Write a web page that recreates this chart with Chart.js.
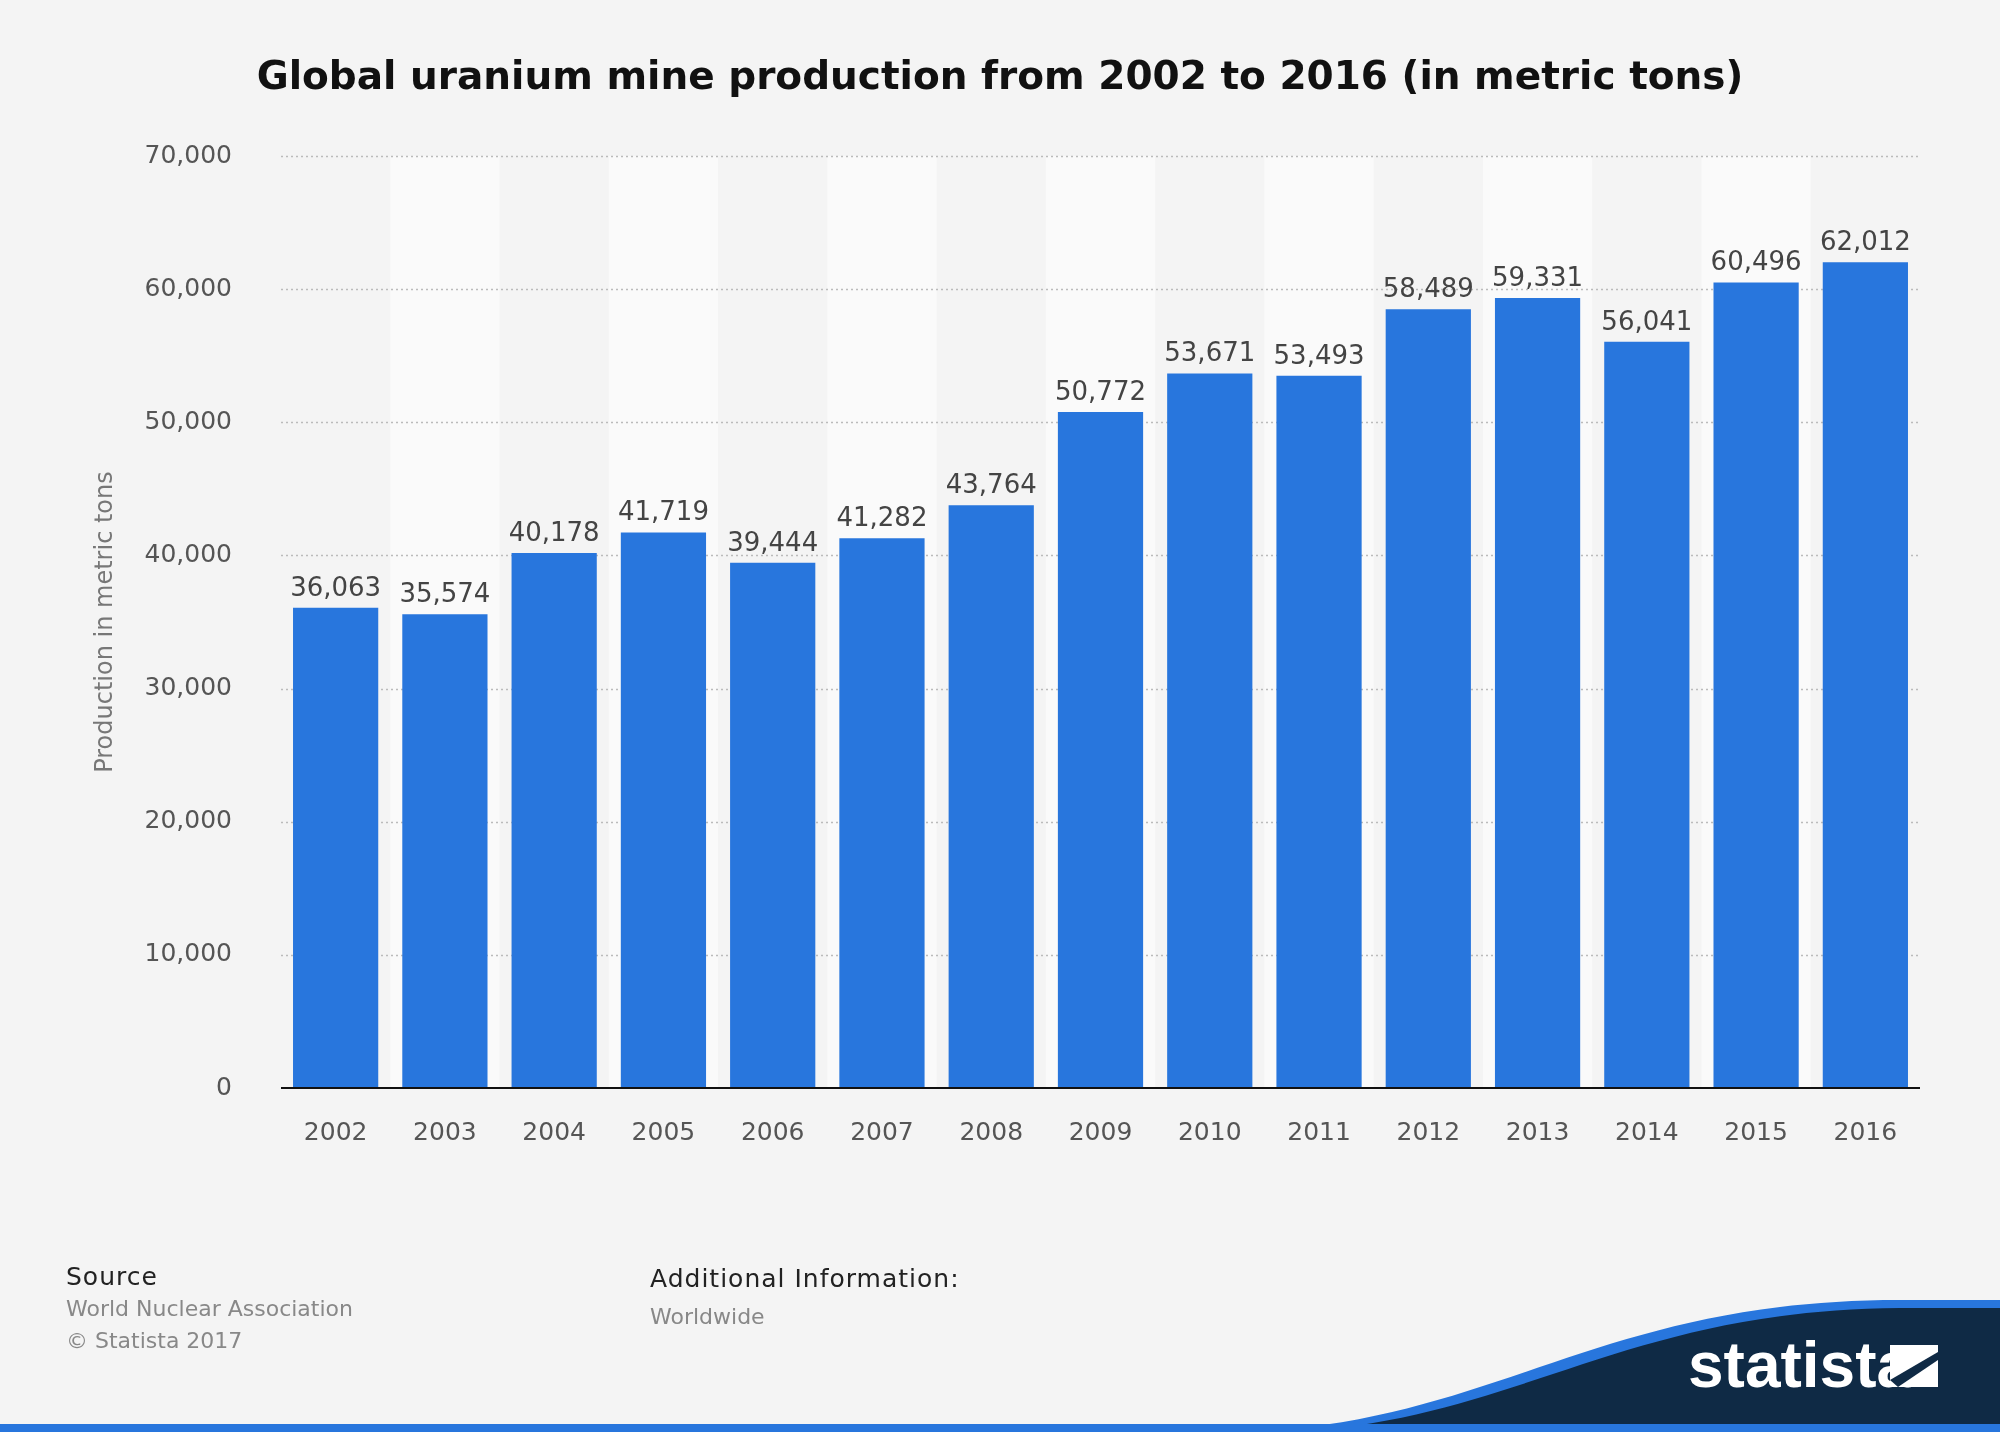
<!DOCTYPE html>
<html><head><meta charset="utf-8">
<script src="https://cdn.jsdelivr.net/npm/chart.js@4"></script>
<style>
body{margin:0;background:#f4f4f4;font-family:"DejaVu Sans",sans-serif;}
#wrap{position:relative;width:2000px;height:1432px;overflow:hidden;}
.t{position:absolute;white-space:nowrap;}
</style></head><body>
<div id="wrap">
<canvas id="myChart" width="2000" height="1432" style="position:absolute;left:0;top:0"></canvas>
<div class="t" style="left:66px;top:1262px;font-size:25px;color:#222;letter-spacing:1px">Source</div>
<div class="t" style="left:66px;top:1296px;font-size:22px;color:#888">World Nuclear Association</div>
<div class="t" style="left:66px;top:1328px;font-size:22px;color:#888">© Statista 2017</div>
<div class="t" style="left:650px;top:1264px;font-size:25px;color:#222;letter-spacing:1px">Additional Information:</div>
<div class="t" style="left:650px;top:1304px;font-size:22px;color:#888">Worldwide</div>
<svg style="position:absolute;left:0;top:0" width="2000" height="1432">
<path d="M1250 1432 C1500 1420 1600 1300 1900 1300 L2000 1300 L2000 1432 Z" fill="#2876dd"/>
<path d="M1290 1432 C1520 1420 1620 1310 1900 1308 L2000 1308 L2000 1432 Z" fill="#0f2a45"/>
<rect x="0" y="1424" width="2000" height="8" fill="#2876dd"/>
<text x="1688" y="1387" font-family="Liberation Sans Narrow, Liberation Sans" font-weight="bold" font-size="64" fill="#fff">statista</text>
<rect x="1890" y="1345" width="48" height="42" fill="#fff"/>
<path d="M1890 1380 L1938 1352 L1938 1360 L1898 1387 Z" fill="#0f2a45"/>
</svg>
</div>
<script>
const years = ['2002','2003','2004','2005','2006','2007','2008','2009','2010','2011','2012','2013','2014','2015','2016'];
const production = [36063,35574,40178,41719,39444,41282,43764,50772,53671,53493,58489,59331,56041,60496,62012];
const yTicks = [0,10000,20000,30000,40000,50000,60000,70000];

const extras = {
  id: 'extras',
  beforeDatasetsDraw(chart) {
    const c = chart.ctx, a = chart.chartArea, x = chart.scales.x, y = chart.scales.y;
    const w = (a.right - a.left) / years.length;
    c.save();
    years.forEach((_, i) => {
      if (i % 2 === 1) { c.fillStyle = '#fafafa'; c.fillRect(a.left + i * w, a.top, w, a.bottom - a.top); }
    });
    c.strokeStyle = '#bbb'; c.lineWidth = 1.5; c.setLineDash([2, 3]);
    yTicks.slice(1).forEach(v => {
      const py = Math.round(y.getPixelForValue(v)) + 0.5;
      c.beginPath(); c.moveTo(a.left, py); c.lineTo(a.right, py); c.stroke();
    });
    c.setLineDash([]);
    c.fillStyle = '#111'; c.font = 'bold 39px "DejaVu Sans"'; c.textAlign = 'center'; c.textBaseline = 'middle';
    c.fillText('Global uranium mine production from 2002 to 2016 (in metric tons)', 1000, 79);
    c.fillStyle = '#777'; c.font = '24px "DejaVu Sans"';
    c.translate(106, 622); c.rotate(-Math.PI / 2); c.fillText('Production in metric tons', 0, 0);
    c.restore();
  },
  afterDatasetsDraw(chart) {
    const c = chart.ctx, a = chart.chartArea, meta = chart.getDatasetMeta(0);
    c.save();
    c.fillStyle = '#444'; c.font = '26px "DejaVu Sans"'; c.textAlign = 'center'; c.textBaseline = 'bottom';
    meta.data.forEach((b, i) => c.fillText(production[i].toLocaleString('en-US'), b.x, b.y - 6));
    c.strokeStyle = '#111'; c.lineWidth = 2;
    c.beginPath(); c.moveTo(a.left, a.bottom); c.lineTo(a.right, a.bottom); c.stroke();
    c.restore();
  }
};

new Chart('myChart', {
  type: 'bar',
  data: { labels: years, datasets: [{ data: production, backgroundColor: '#2876dd', barPercentage: 0.78, categoryPercentage: 1 }] },
  options: {
    responsive: false, animation: false,
    layout: { padding: { top: 156, right: 80, left: 0, bottom: 0 } },
    plugins: { legend: { display: false }, tooltip: { enabled: false } },
    scales: {
      x: {
        grid: { display: false }, border: { display: false },
        ticks: { color: '#555', font: { size: 25, family: 'DejaVu Sans' }, padding: 22, maxRotation: 0 },
        afterFit(s) { s.height = 344; }
      },
      y: {
        min: 0, max: 70000,
        grid: { display: false }, border: { display: false },
        afterBuildTicks(s) { s.ticks = yTicks.map(v => ({ value: v })); },
        ticks: { color: '#555', font: { size: 25, family: 'DejaVu Sans' }, padding: 41,
          callback: v => v.toLocaleString('en-US') },
        afterFit(s) { s.width = 281; }
      }
    }
  },
  plugins: [extras]
});
</script>
</body></html>
